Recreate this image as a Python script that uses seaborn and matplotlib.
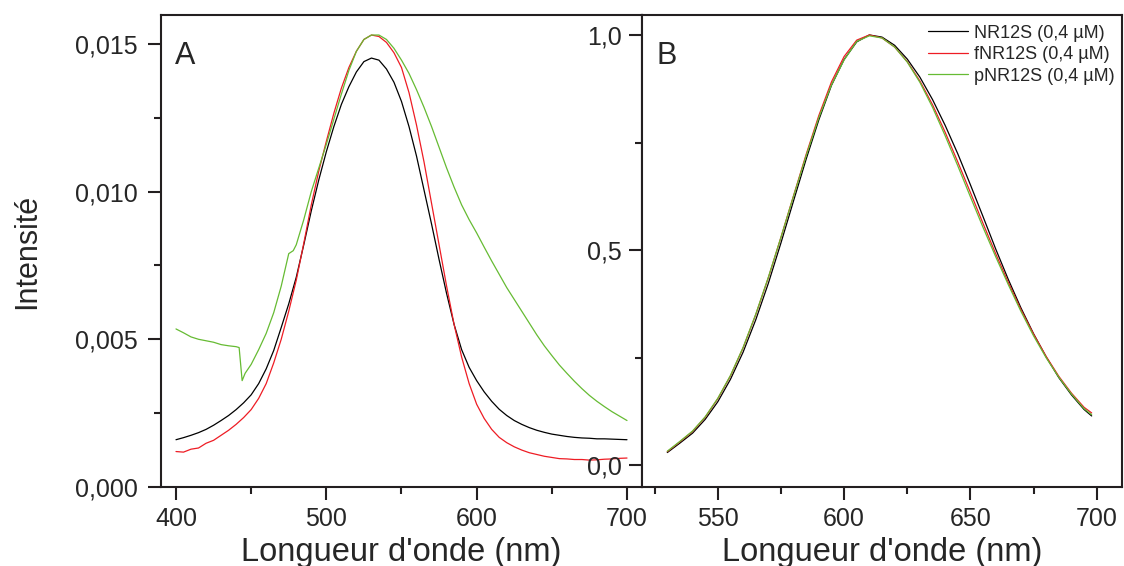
import pandas as pd
import seaborn as sns
import matplotlib.pyplot as plt
from matplotlib.ticker import FuncFormatter, MultipleLocator

# Panel A : spectres bruts
wl_a = [400, 405, 410, 415, 420, 425, 430, 435, 440, 445, 450, 455, 460, 465,
        470, 475, 480, 485, 490, 495, 500, 505, 510, 515, 520, 525, 530, 535,
        540, 545, 550, 555, 560, 565, 570, 575, 580, 585, 590, 595, 600, 605,
        610, 615, 620, 625, 630, 635, 640, 645, 650, 655, 660, 665, 670, 675,
        680, 685, 690, 695, 700]
nr12s_a = [0.00160, 0.00167, 0.00175, 0.00184, 0.00195, 0.00209, 0.00225, 0.00242,
           0.00262, 0.00285, 0.00312, 0.00350, 0.00400, 0.00462, 0.00540, 0.00620,
           0.00710, 0.00820, 0.00935, 0.01040, 0.01135, 0.01220, 0.01295, 0.01355,
           0.01405, 0.01440, 0.01452, 0.01445, 0.01415, 0.01370, 0.01305, 0.01220,
           0.01120, 0.01005, 0.00890, 0.00770, 0.00655, 0.00550, 0.00465, 0.00405,
           0.00360, 0.00322, 0.00290, 0.00263, 0.00242, 0.00225, 0.00212, 0.00201,
           0.00192, 0.00185, 0.00179, 0.00175, 0.00171, 0.00168, 0.00166, 0.00165,
           0.00163, 0.00163, 0.00162, 0.00161, 0.00160]
fnr12s_a = [0.00120, 0.00118, 0.00128, 0.00132, 0.00148, 0.00158, 0.00175, 0.00192,
            0.00212, 0.00235, 0.00262, 0.00300, 0.00350, 0.00420, 0.00500, 0.00595,
            0.00700, 0.00825, 0.00955, 0.01070, 0.01170, 0.01265, 0.01350, 0.01420,
            0.01475, 0.01515, 0.01530, 0.01525, 0.01505, 0.01470, 0.01420, 0.01335,
            0.01225, 0.01100, 0.00960, 0.00820, 0.00680, 0.00550, 0.00440, 0.00350,
            0.00280, 0.00232, 0.00195, 0.00168, 0.00150, 0.00136, 0.00125, 0.00116,
            0.00110, 0.00104, 0.00100, 0.00096, 0.00095, 0.00093, 0.00093, 0.00091,
            0.00092, 0.00094, 0.00095, 0.00097, 0.00098]
wl_a_p = [400, 405, 410, 415, 420, 425, 430, 435, 440, 442, 444, 446, 450, 455,
          460, 465, 470, 475, 478, 480, 485, 490, 495, 500, 505, 510, 515, 520,
          525, 530, 535, 540, 545, 550, 555, 560, 565, 570, 575, 580, 585, 590,
          595, 600, 605, 610, 615, 620, 625, 630, 635, 640, 645, 650, 655, 660,
          665, 670, 675, 680, 685, 690, 695, 700]
pnr12s_a = [0.00535, 0.00522, 0.00508, 0.00500, 0.00495, 0.00490, 0.00482, 0.00478,
            0.00475, 0.00472, 0.00360, 0.00385, 0.00415, 0.00465, 0.00520, 0.00590,
            0.00680, 0.00790, 0.00800, 0.00820, 0.00905, 0.01000, 0.01080, 0.01160,
            0.01245, 0.01330, 0.01410, 0.01475, 0.01515, 0.01530, 0.01530, 0.01515,
            0.01485, 0.01445, 0.01400, 0.01345, 0.01285, 0.01220, 0.01150, 0.01080,
            0.01015, 0.00955, 0.00905, 0.00860, 0.00812, 0.00765, 0.00720, 0.00675,
            0.00635, 0.00595, 0.00555, 0.00515, 0.00478, 0.00445, 0.00413, 0.00385,
            0.00358, 0.00333, 0.00310, 0.00290, 0.00272, 0.00255, 0.00240, 0.00225]

# Panel B : spectres normalises
wl_b = [530, 535, 540, 545, 550, 555, 560, 565, 570, 575, 580, 585, 590, 595,
        600, 605, 610, 615, 620, 625, 630, 635, 640, 645, 650, 655, 660, 665,
        670, 675, 680, 685, 690, 695, 698]
nr12s_b = [0.030, 0.052, 0.075, 0.107, 0.148, 0.200, 0.263, 0.338, 0.423, 0.517,
           0.615, 0.712, 0.803, 0.883, 0.943, 0.984, 1.000, 0.995, 0.976, 0.944,
           0.902, 0.850, 0.790, 0.724, 0.652, 0.578, 0.503, 0.432, 0.366, 0.306,
           0.252, 0.204, 0.164, 0.130, 0.115]
fnr12s_b = [0.032, 0.055, 0.079, 0.112, 0.155, 0.208, 0.273, 0.350, 0.436, 0.530,
            0.627, 0.723, 0.813, 0.891, 0.950, 0.988, 1.000, 0.993, 0.972, 0.938,
            0.893, 0.838, 0.774, 0.705, 0.634, 0.562, 0.492, 0.425, 0.362, 0.305,
            0.253, 0.207, 0.168, 0.135, 0.122]
pnr12s_b = [0.033, 0.056, 0.080, 0.113, 0.156, 0.209, 0.274, 0.351, 0.437, 0.530,
            0.626, 0.720, 0.808, 0.884, 0.942, 0.985, 0.998, 0.993, 0.972, 0.937,
            0.890, 0.832, 0.766, 0.696, 0.624, 0.553, 0.485, 0.420, 0.358, 0.301,
            0.250, 0.205, 0.166, 0.132, 0.118]

noms = ['NR12S (0,4 µM)', 'fNR12S (0,4 µM)', 'pNR12S (0,4 µM)']
couleurs = ['#000000', '#ee1c24', '#66bb33']

df_a = pd.concat([
    pd.DataFrame({'wl': wl_a, 'val': nr12s_a, 'serie': noms[0]}),
    pd.DataFrame({'wl': wl_a, 'val': fnr12s_a, 'serie': noms[1]}),
    pd.DataFrame({'wl': wl_a_p, 'val': pnr12s_a, 'serie': noms[2]}),
])
df_b = pd.concat([
    pd.DataFrame({'wl': wl_b, 'val': nr12s_b, 'serie': noms[0]}),
    pd.DataFrame({'wl': wl_b, 'val': fnr12s_b, 'serie': noms[1]}),
    pd.DataFrame({'wl': wl_b, 'val': pnr12s_b, 'serie': noms[2]}),
])

sns.set_style("ticks")
plt.rcParams['font.family'] = ['Liberation Sans', 'DejaVu Sans']

fig = plt.figure(figsize=(11.24, 5.66), dpi=100)
ax_a = fig.add_axes([0.1432, 0.1396, 0.428, 0.834])
ax_b = fig.add_axes([0.5712, 0.1396, 0.427, 0.834])

pal = dict(zip(noms, couleurs))
sns.lineplot(data=df_a, x='wl', y='val', hue='serie', palette=pal, ax=ax_a,
             lw=0.9, estimator=None, legend=False)
sns.lineplot(data=df_b, x='wl', y='val', hue='serie', palette=pal, ax=ax_b,
             lw=0.9, estimator=None)

ax_a.set_xlim(390, 710)
ax_a.set_ylim(0, 0.01598)
ax_b.set_xlim(520, 710)
ax_b.set_ylim(-0.05, 1.0465)

ax_a.xaxis.set_major_locator(MultipleLocator(100))
ax_a.xaxis.set_minor_locator(MultipleLocator(50))
ax_a.yaxis.set_major_locator(MultipleLocator(0.005))
ax_a.yaxis.set_minor_locator(MultipleLocator(0.0025))
ax_b.xaxis.set_major_locator(MultipleLocator(50))
ax_b.xaxis.set_minor_locator(MultipleLocator(25))
ax_b.yaxis.set_major_locator(MultipleLocator(0.5))
ax_b.yaxis.set_minor_locator(MultipleLocator(0.25))

ax_a.yaxis.set_major_formatter(FuncFormatter(lambda v, p: f'{v:.3f}'.replace('.', ',')))
ax_b.yaxis.set_major_formatter(FuncFormatter(lambda v, p: f'{v:.1f}'.replace('.', ',')))

for ax in (ax_a, ax_b):
    for s in ax.spines.values():
        s.set_linewidth(1.5)
        s.set_color('#231f20')
    ax.tick_params(which='major', length=9.5, width=1.5, labelsize=18, color='#231f20')
    ax.tick_params(which='minor', length=5, width=1.5, color='#231f20')
    ax.tick_params(axis='x', which='major', pad=5)
    ax.set_xlabel("Longueur d'onde (nm)", fontsize=23.5, labelpad=4)

ax_a.tick_params(axis='y', which='major', pad=7)
ax_b.tick_params(axis='y', which='major', pad=5)

ax_a.set_ylabel('Intensité', fontsize=22, labelpad=24)
ax_b.set_ylabel('')

ax_a.text(0.03, 0.945, 'A', transform=ax_a.transAxes, fontsize=22, va='top')
ax_b.text(0.03, 0.945, 'B', transform=ax_b.transAxes, fontsize=22, va='top')

ax_b.legend(loc='upper right', frameon=False, fontsize=13, handlelength=2.2,
            handletextpad=0.35, labelspacing=0.25, borderaxespad=0.0,
            bbox_to_anchor=(1.0, 0.995))

fig.savefig('out.png', dpi=100)
